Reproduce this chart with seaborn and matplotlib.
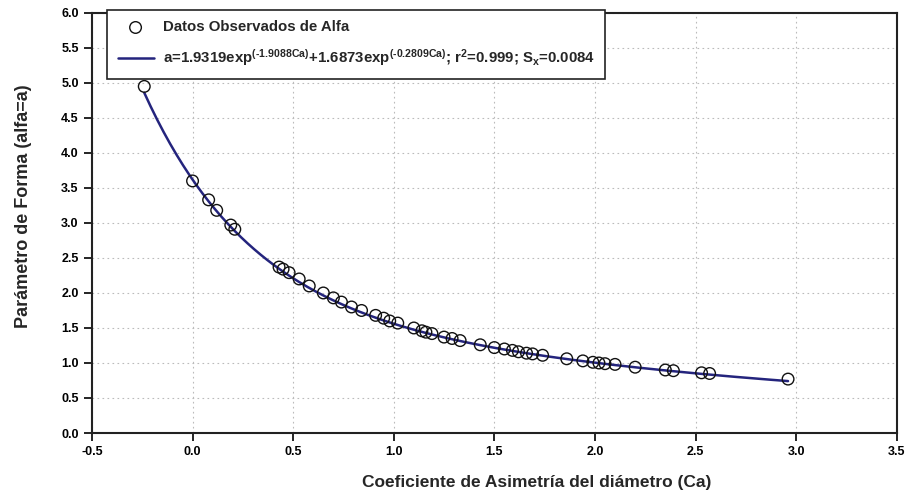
import numpy as np
import pandas as pd
import seaborn as sns
import matplotlib.pyplot as plt

sns.set_style('white')
plt.rcParams['font.family'] = ['Liberation Sans', 'DejaVu Sans']
plt.rcParams['font.weight'] = 'bold'
plt.rcParams['mathtext.fontset'] = 'custom'
plt.rcParams['mathtext.rm'] = 'Liberation Sans:bold'
plt.rcParams['mathtext.bf'] = 'Liberation Sans:bold'
plt.rcParams['mathtext.default'] = 'bf'

# observed alfa values vs asymmetry coefficient
ca = [-0.24, 0.0, 0.08, 0.12, 0.19, 0.21, 0.43, 0.45, 0.48, 0.53, 0.58, 0.65,
      0.70, 0.74, 0.79, 0.84, 0.91, 0.95, 0.98, 1.02, 1.10, 1.14, 1.16, 1.19,
      1.25, 1.29, 1.33, 1.43, 1.50, 1.55, 1.59, 1.62, 1.66, 1.69, 1.74, 1.86,
      1.94, 1.99, 2.02, 2.05, 2.10, 2.20, 2.35, 2.39, 2.53, 2.57, 2.96]
alfa = [4.95, 3.60, 3.33, 3.18, 2.97, 2.91, 2.37, 2.34, 2.29, 2.20, 2.10, 2.00,
        1.93, 1.87, 1.80, 1.75, 1.68, 1.64, 1.60, 1.57, 1.50, 1.46, 1.44, 1.42,
        1.37, 1.35, 1.32, 1.26, 1.22, 1.20, 1.18, 1.16, 1.14, 1.13, 1.11, 1.06,
        1.03, 1.01, 1.00, 0.99, 0.98, 0.94, 0.90, 0.89, 0.86, 0.85, 0.77]

# fitted model stated in the legend
fit_amp = [1.9319, 1.6873]
fit_rate = [-1.9088, -0.2809]

df_obs = pd.DataFrame({'Ca': ca, 'alfa': alfa})
xfit = np.linspace(min(ca), max(ca), 300)
yfit = fit_amp[0] * np.exp(fit_rate[0] * xfit) + fit_amp[1] * np.exp(fit_rate[1] * xfit)
df_fit = pd.DataFrame({'Ca': xfit, 'alfa': yfit})

fig = plt.figure(figsize=(9.15, 4.96), dpi=100)
ax = fig.add_axes([0.1005, 0.127, 0.8795, 0.847])

# hyphen (U+2010) so mathtext keeps a short dash instead of a minus sign
lbl_fit = ('a=1.9319exp$^{(\u20101.9088Ca)}$+1.6873exp$^{(\u20100.2809Ca)}$; '
           'r$^{2}$=0.999; S$_{x}$=0.0084')
sns.lineplot(data=df_fit, x='Ca', y='alfa', color='#24247d', linewidth=1.8,
             ax=ax, label=lbl_fit, zorder=2)
sns.scatterplot(data=df_obs, x='Ca', y='alfa', marker='o', s=70,
                facecolor='none', edgecolor='#111111', linewidth=1.0,
                ax=ax, label='Datos Observados de Alfa', zorder=3)

ax.set_xlim(-0.5, 3.5)
ax.set_ylim(0, 6)
ax.set_xticks(np.arange(-0.5, 3.51, 0.5))
ax.set_yticks(np.arange(0, 6.01, 0.5))
ax.set_xticklabels([f'{v:.1f}' for v in np.arange(-0.5, 3.51, 0.5)])
ax.set_yticklabels([f'{v:.1f}' for v in np.arange(0, 6.01, 0.5)])
ax.grid(True, color='#bbbbbb', linestyle=(0, (1.5, 3)), linewidth=0.8)
ax.tick_params(axis='both', direction='out', length=6, width=1.2,
               labelsize=9, colors='black', left=True, bottom=True)
for lab in ax.get_xticklabels() + ax.get_yticklabels():
    lab.set_fontweight('bold')
for sp in ax.spines.values():
    sp.set_color('#222222')
    sp.set_linewidth(1.5)

ax.set_xlabel('Coeficiente de Asimetría del diámetro (Ca)', fontsize=12.5,
              fontweight='bold')
ax.xaxis.set_label_coords(0.553, -0.1)
ax.set_ylabel('Parámetro de Forma (alfa=a)', fontsize=13, fontweight='bold')
ax.yaxis.set_label_coords(-0.0745, 0.54)

handles, labels = ax.get_legend_handles_labels()
order = [1, 0]
leg = ax.legend([handles[i] for i in order], [labels[i] for i in order],
                loc='upper left', bbox_to_anchor=(0.117, 0.98),
                bbox_transform=fig.transFigure, borderaxespad=0,
                fancybox=False, framealpha=1, edgecolor='#222222',
                handlelength=2.4, borderpad=0.7, handletextpad=0.6,
                labelspacing=0.85, prop={'weight': 'bold', 'size': 10.8})
leg.get_frame().set_linewidth(1.2)
leg.set_zorder(5)

fig.savefig('out.png', dpi=100)
